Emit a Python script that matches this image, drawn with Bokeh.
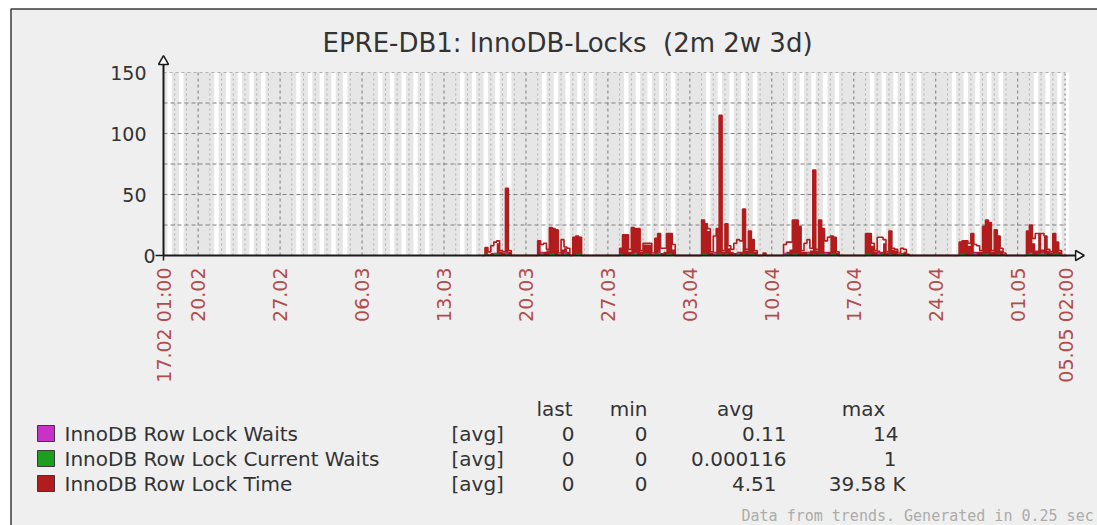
from datetime import datetime, timedelta
import math

from bokeh.plotting import figure
from bokeh.models import Range1d
from bokeh.core.properties import value
from bokeh.embed import file_html
from bokeh.resources import INLINE

# ---------------- data ----------------
title_text = "EPRE-DB1: InnoDB-Locks\u00a0\u00a0(2m 2w 3d)"
period_start = datetime(2022, 2, 17, 1, 0)
period_end = datetime(2022, 5, 5, 2, 0)
series_start = datetime(2022, 3, 16, 6, 0)   # first trend bin
bin_hours = 6

week_ticks = ["20.02", "27.02", "06.03", "13.03", "20.03", "27.03",
              "03.04", "10.04", "17.04", "24.04", "01.05"]
edge_labels = ["17.02 01:00", "05.05 02:00"]
y_ticks = [0, 50, 100, 150]
y_grid = [25, 50, 75, 100, 125, 150]

# InnoDB Row Lock Time - max envelope per 6h bin
lock_time_max = [
    0, 6.5, 3, 8, 11, 12, 4, 3, 55, 4,
    0, 0, 0, 0, 0, 0, 0, 0, 0, 12,
    9, 10, 5, 23, 22, 21, 2, 13, 7, 6,
    0, 15, 16, 15, 0, 0, 0, 0, 0, 0,
    0, 0, 0, 0, 0, 0, 0, 6, 17, 17,
    5, 23, 22, 22, 4, 10, 10, 10, 2, 14,
    18, 6, 6, 18, 18, 9, 0, 0, 0, 0,
    0, 0, 0, 0, 0, 29, 26, 22, 3, 16,
    22, 115, 4, 26, 8, 5, 10, 13, 12, 38,
    5, 20, 13, 4, 0, 0, 2, 0, 0, 0,
    0, 0, 0, 9, 11, 11, 29, 29, 24, 4,
    10, 13, 6, 70, 5, 29, 22, 12, 15, 16,
    15, 3, 0, 0, 0, 0, 0, 0, 0, 0,
    0, 18, 18, 10, 4, 15, 15, 13, 3, 20,
    6, 5, 2, 6, 5, 1, 0, 0, 0, 0,
    0, 0, 0, 0, 0, 0, 0, 0, 0, 0,
    0, 0, 0, 11, 12, 12, 10, 18, 9, 8,
    4, 24, 29, 27, 4, 21, 16, 6, 2, 0,
    0, 0, 0, 0, 0, 0, 20, 25, 14, 18,
    18, 18, 16, 5, 3, 18, 11, 4, 0, 0,
]
# InnoDB Row Lock Time - filled (avg) per 6h bin
lock_time_avg = [
    0, 6.5, 1, 2, 2, 10, 3, 2, 55, 3,
    0, 0, 0, 0, 0, 0, 0, 0, 0, 12,
    3, 3, 4, 23, 22, 21, 1, 5, 6, 3,
    0, 15, 16, 15, 0, 0, 0, 0, 0, 0,
    0, 0, 0, 0, 0, 0, 0, 6, 17, 17,
    3, 23, 22, 22, 3, 9, 9, 9, 1, 14,
    18, 2, 3, 18, 18, 5, 0, 0, 0, 0,
    0, 0, 0, 0, 0, 29, 26, 20, 2, 3,
    22, 115, 3, 26, 6, 3, 2, 3, 3, 38,
    4, 20, 13, 3, 0, 0, 2, 0, 0, 0,
    0, 0, 0, 2, 3, 5, 29, 29, 24, 3,
    3, 3, 4, 70, 4, 29, 22, 3, 3, 16,
    15, 2, 0, 0, 0, 0, 0, 0, 0, 0,
    0, 18, 18, 8, 3, 4, 3, 10, 2, 20,
    5, 4, 1, 2, 3, 1, 0, 0, 0, 0,
    0, 0, 0, 0, 0, 0, 0, 0, 0, 0,
    0, 0, 0, 11, 12, 12, 8, 18, 3, 3,
    3, 24, 29, 27, 3, 21, 16, 4, 1, 0,
    0, 0, 0, 0, 0, 0, 20, 25, 10, 4,
    18, 5, 16, 4, 2, 18, 11, 3, 0, 0,
]
# InnoDB Row Lock Waits
waits = [
    0, 0, 0, 0, 2.5, 0, 0, 0, 2.5, 0,
    0, 0, 0, 0, 0, 0, 0, 0, 0, 0,
    2.5, 0, 0, 0, 0, 0, 0, 0, 2.5, 0,
    0, 0, 0, 0, 0, 0, 0, 0, 0, 0,
    0, 0, 0, 0, 0, 0, 0, 0, 0, 0,
    0, 0, 2.5, 0, 0, 0, 0, 0, 0, 0,
    2.5, 0, 0, 0, 0, 0, 0, 0, 0, 0,
    0, 0, 0, 0, 0, 0, 0, 0, 0, 2.5,
    0, 0, 0, 0, 0, 0, 0, 2.5, 0, 0,
    0, 0, 0, 0, 0, 0, 0, 0, 0, 0,
    0, 0, 0, 2.5, 0, 0, 0, 0, 0, 0,
    0, 2.5, 0, 0, 0, 0, 0, 2.5, 0, 0,
    0, 0, 0, 0, 0, 0, 0, 0, 0, 0,
    0, 0, 0, 0, 0, 2.5, 0, 0, 0, 0,
    0, 0, 0, 0, 0, 0, 0, 0, 0, 0,
    0, 0, 0, 0, 0, 0, 0, 0, 0, 0,
    0, 0, 0, 0, 0, 0, 0, 0, 2.5, 0,
    0, 0, 0, 0, 0, 0, 0, 0, 0, 0,
    0, 0, 0, 0, 0, 0, 0, 2.5, 0, 0,
    0, 2.5, 0, 0, 0, 0, 0, 0, 0, 0,
]
# InnoDB Row Lock Current Waits
current_waits = [
    0, 1.5, 0, 0, 1.5, 1.5, 0, 0, 1.5, 0,
    0, 0, 0, 0, 0, 0, 0, 0, 0, 0,
    1.5, 0, 0, 1.5, 1.5, 0, 0, 0, 1.5, 0,
    0, 0, 1.5, 1.5, 0, 0, 0, 0, 0, 0,
    0, 0, 0, 0, 0, 0, 0, 1.5, 0, 0,
    0, 1.5, 1.5, 0, 0, 1.5, 1.5, 0, 0, 1.5,
    1.5, 0, 0, 1.5, 1.5, 0, 0, 0, 0, 0,
    0, 0, 0, 0, 0, 1.5, 1.5, 0, 0, 0,
    1.5, 1.5, 0, 1.5, 0, 0, 0, 1.5, 0, 1.5,
    0, 1.5, 1.5, 0, 0, 0, 0, 0, 0, 0,
    0, 0, 0, 0, 1.5, 0, 1.5, 1.5, 0, 0,
    0, 1.5, 0, 1.5, 0, 1.5, 1.5, 0, 0, 1.5,
    1.5, 0, 0, 0, 0, 0, 0, 0, 0, 0,
    0, 1.5, 1.5, 0, 0, 0, 1.5, 0, 0, 1.5,
    0, 0, 0, 1.5, 0, 0, 0, 0, 0, 0,
    0, 0, 0, 0, 0, 0, 0, 0, 0, 0,
    0, 0, 0, 1.5, 1.5, 0, 0, 1.5, 0, 0,
    0, 1.5, 1.5, 0, 0, 0, 1.5, 0, 0, 0,
    0, 0, 0, 0, 0, 0, 1.5, 1.5, 0, 0,
    1.5, 0, 1.5, 0, 0, 1.5, 1.5, 0, 0, 0,
]

legend_names = ["InnoDB Row Lock Waits", "InnoDB Row Lock Current Waits", "InnoDB Row Lock Time"]
legend_colors = ["#C832C8", "#1E9E1E", "#B21C1C"]
legend_func = ["[avg]", "[avg]", "[avg]"]
stat_headers = ["last", "min", "avg", "max"]
stat_last = ["0", "0", "0"]
stat_min = ["0", "0", "0"]
stat_avg = ["0.11", "0.000116", "4.51"]
stat_max = ["14", "1", "39.58 K"]
footer_text = "Data from trends. Generated in 0.25 sec"

# ---------------- helpers ----------------
ORIGIN = datetime(2022, 2, 17)


def hrs(dt):
    return (dt - ORIGIN).total_seconds() / 3600.0


def parse_day(s):
    d, m = s.split(".")
    return datetime(2022, int(m), int(d))


def step_xy(values):
    xs, ys = [], []
    for k, v in enumerate(values):
        t0 = hrs(series_start + timedelta(hours=bin_hours * k))
        t1 = hrs(series_start + timedelta(hours=bin_hours * (k + 1)))
        xs += [t0, t1]
        ys += [v, v]
    return xs, ys


W, H = 1097, 525
X0, X1 = hrs(period_start), hrs(period_end)
FRAME_L, FRAME_R, FRAME_T, FRAME_B = 163, 1065, 72, 255   # page pixels of the value area
PX_H = (FRAME_R - FRAME_L) / (X1 - X0)
PX_V = (FRAME_B - FRAME_T) / 150.0


def xd(px):
    return X0 + (px - FRAME_L) / PX_H


def yd(py):
    return (FRAME_B - py) / PX_V


FONT = value("DejaVu Sans")
TXT = "#333333"

p = figure(width=W, height=H, x_range=Range1d(xd(0), xd(W)), y_range=Range1d(yd(H), yd(0)),
           output_backend="svg", toolbar_location=None, x_axis_type=None, y_axis_type=None,
           title=None, min_border=0)
p.outline_line_color = None
p.background_fill_color = "white"
p.border_fill_color = "white"

# image frame
p.quad(left=xd(10.5), right=xd(W + 20), top=yd(8.5), bottom=yd(H + 20),
       fill_color="#efefef", line_color="#3c3c3c", line_width=1.5)

# value area + working time (Mon-Fri 09:00-18:00)
p.quad(left=X0, right=X1, bottom=0, top=150, fill_color="#e6e6e6", line_color=None)
bl, br = [], []
d = datetime(2022, 2, 17)
while d <= period_end:
    if d.weekday() < 5:
        bl.append(max(X0, hrs(d) + 9))
        br.append(min(X1, hrs(d) + 18))
    d += timedelta(days=1)
p.quad(left=bl, right=br, bottom=0, top=150, fill_color="white", line_color=None)

# grid
week_h = [hrs(parse_day(s)) for s in week_ticks]
day_h = []
d = datetime(2022, 2, 18)
while d < period_end:
    if hrs(d) not in week_h:
        day_h.append(hrs(d))
    d += timedelta(days=1)
day_h.append(X1)
p.segment(x0=day_h, x1=day_h, y0=0, y1=150, line_color="#b0b0b0", line_width=1, line_dash="2 3")
p.segment(x0=week_h, x1=week_h, y0=0, y1=150, line_color="#7a7a7a", line_width=1, line_dash="3 3")
p.segment(x0=X0, x1=X1, y0=y_grid[:-1], y1=y_grid[:-1], line_color="#808080", line_width=1, line_dash="4 3")
p.segment(x0=X0, x1=X1, y0=y_grid[-1:], y1=y_grid[-1:], line_color="#b0b0b0", line_width=1, line_dash="3 3")

# series
xa, ya = step_xy(lock_time_avg)
xm, ym = step_xy(lock_time_max)
xw, yw = step_xy(waits)
xc, yc = step_xy(current_waits)
p.varea(x=xa, y1=[0] * len(xa), y2=ya, fill_color=legend_colors[2])
p.line(xm, ym, line_color=legend_colors[2], line_width=1.6)
p.varea(x=xw, y1=[0] * len(xw), y2=yw, fill_color=legend_colors[0])
p.varea(x=xc, y1=[0] * len(xc), y2=yc, fill_color=legend_colors[1])

# axes with arrows
AX = "#1a1a1a"
p.segment(x0=[X0, X0], y0=[0, 0], x1=[X0, xd(1078)], y1=[yd(62), 0], line_color=AX, line_width=2)
p.segment(x0=[xd(155), X0], y0=[0, 0], x1=[X0, X0], y1=[0, yd(260)], line_color=AX, line_width=1.5)
p.scatter(x=[X0], y=[yd(61)], marker="triangle", size=10, fill_color="white", line_color=AX, line_width=1.5)
p.scatter(x=[xd(1078)], y=[0], marker="triangle", size=10, angle=-math.pi / 2,
          fill_color="white", line_color=AX, line_width=1.5)

# y tick labels
y_label_right = [155, 146, 146, 146]
p.text(x=[xd(r) for r in y_label_right], y=y_ticks, text=[str(t) for t in y_ticks],
       text_font=FONT, text_font_size=value("19px"), text_color=TXT,
       text_align="right", text_baseline="middle")

# x tick labels (vertical)
xticks = [X0] + week_h + [X1]
xlabels = [edge_labels[0]] + week_ticks + [edge_labels[1]]
p.text(x=xticks, y=[yd(267)] * len(xticks), text=xlabels, angle=math.pi / 2,
       text_font=FONT, text_font_size=value("19px"), text_color="#b24c4c",
       text_align="right", text_baseline="middle")

# title
p.text(x=[xd(567)], y=[yd(42)], text=[title_text], text_font=FONT, text_font_size=value("26px"),
       text_color=TXT, text_align="center", text_baseline="middle")

# legend table
hdr_centers = [554, 628, 735, 863]
p.text(x=[xd(c) for c in hdr_centers], y=[yd(408)] * 4, text=stat_headers,
       text_font=FONT, text_font_size=value("20px"), text_color=TXT,
       text_align="center", text_baseline="middle")
row_mid = [433, 458, 483]
p.quad(left=xd(37), right=xd(54), top=[yd(m - 8) for m in row_mid], bottom=[yd(m + 8) for m in row_mid],
       fill_color=legend_colors, line_color="#3a3a3a", line_width=1)
p.text(x=xd(64), y=[yd(m) for m in row_mid], text=legend_names, text_font=FONT,
       text_font_size=value("20px"), text_color=TXT, text_align="left", text_baseline="middle")
p.text(x=xd(451), y=[yd(m) for m in row_mid], text=legend_func, text_font=FONT,
       text_font_size=value("20px"), text_color=TXT, text_align="left", text_baseline="middle")
avg_right = [786, 786, 776]
max_right = [898, 896, 905]
for col, rights in ((stat_last, [574] * 3), (stat_min, [647] * 3), (stat_avg, avg_right), (stat_max, max_right)):
    p.text(x=[xd(r) for r in rights], y=[yd(m) for m in row_mid], text=col, text_font=FONT,
           text_font_size=value("20px"), text_color=TXT, text_align="right", text_baseline="middle")

p.text(x=[xd(741)], y=[yd(515)], text=[footer_text], text_font=value("DejaVu Sans Mono"),
       text_font_size=value("15px"), text_color="#ababab", text_align="left", text_baseline="middle")

open("out.html", "w").write(file_html(p, INLINE))
